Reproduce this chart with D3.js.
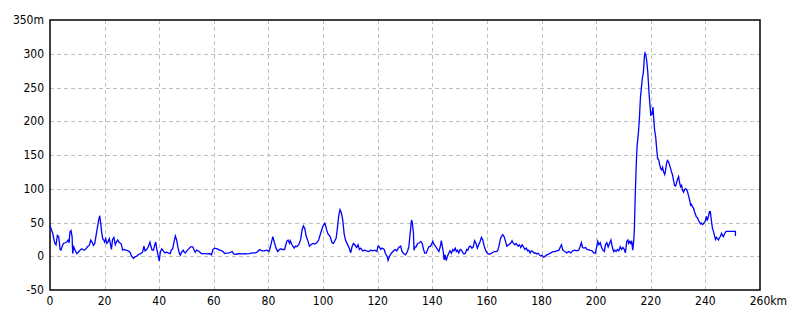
<!DOCTYPE html>
<html>
<head>
<meta charset="utf-8">
<script src="https://cdn.jsdelivr.net/npm/d3@7"></script>
<style>
body { margin: 0; background: #fff; }
svg text { font-family: "Liberation Sans Narrow", "DejaVu Sans Condensed", "Liberation Sans", sans-serif; font-size: 12px; fill: #000; }
</style>
</head>
<body>
<svg width="800" height="320"></svg>
<script>
// elevation profile: distance (km) / height (m)
var dist = [0,1.0,1.5,1.8,2.2,2.7,3.2,3.4,3.7,4.0,4.4,4.9,5.6,6.1,6.6,7.0,7.3,7.7,8.1,8.3,8.7,9.2,9.8,10.4,11.0,11.6,12.0,12.5,13.2,13.7,14.4,14.9,15.4,15.9,16.4,16.8,17.3,17.8,18.2,18.6,18.9,19.3,19.7,20.0,20.4,20.8,21.2,21.7,22.1,22.5,22.9,23.4,23.9,24.3,24.8,25.2,26.1,26.6,27.1,27.8,28.6,29.3,29.9,30.5,31.1,31.7,32.5,33.2,33.9,34.4,34.8,35.4,36.0,36.6,37.0,37.4,37.9,38.3,38.7,39.1,39.6,40.0,40.4,40.9,41.5,42.1,42.7,43.3,44.0,44.4,44.9,45.4,45.9,46.4,46.8,47.3,47.7,48.2,48.8,49.2,49.6,50.1,50.8,51.5,52.3,52.7,53.2,53.7,54.3,55.4,56.7,57.6,58.5,59.1,59.7,60.3,61.3,62.1,63.0,64.0,64.5,65.7,66.7,67.2,68.1,69.3,70.6,71.2,72.0,73.0,74.2,75.4,76.1,76.7,77.7,78.5,79.4,80.2,80.7,81.6,82.2,82.8,83.4,84.0,84.6,85.2,85.9,86.7,87.2,87.7,88.0,88.6,89.4,89.9,90.4,91.1,91.8,92.3,92.8,93.3,93.8,94.5,95.0,95.6,96.2,96.9,97.7,98.4,99.1,99.9,100.6,100.9,101.3,101.8,102.6,103.3,103.8,104.3,104.8,105.3,105.7,106.2,106.7,107.2,107.7,108.2,108.9,109.6,110.1,110.6,111.1,111.6,112.3,112.8,113.3,113.8,114.5,115.2,115.9,116.7,117.4,118.2,118.9,119.7,120.1,120.6,121.1,121.6,122.4,122.8,123.6,123.8,124.3,125.0,125.8,126.5,127.0,127.7,128.4,128.9,129.4,130.2,130.9,131.4,131.9,132.4,132.7,133.1,133.3,133.7,134.1,134.6,135.3,135.8,136.3,136.8,137.2,137.7,138.2,138.7,139.4,140.2,140.7,141.3,141.9,142.4,142.9,143.3,143.7,144.1,144.3,144.7,145.1,145.5,146.0,146.5,147.0,147.5,147.9,148.4,148.8,149.2,149.7,150.2,150.7,151.2,151.6,152.1,152.6,153.0,153.5,154.0,154.5,155.0,155.5,156.0,156.5,157.0,157.5,158.0,158.5,159.0,159.6,160.2,160.9,161.7,162.7,163.4,163.9,164.4,164.9,165.3,165.8,166.3,166.8,167.3,168.0,168.8,169.2,169.7,170.2,170.7,171.4,171.9,172.4,172.9,173.4,173.9,174.4,174.9,175.3,175.8,176.3,176.8,177.3,177.7,178.2,178.8,179.2,179.7,180.2,180.7,181.2,181.9,182.7,183.4,184.2,184.9,185.6,186.4,186.9,187.3,187.8,188.5,189.3,190.0,190.7,191.4,192.2,192.9,193.6,194.1,194.6,195.0,195.5,196.1,196.7,197.6,198.5,199.1,199.7,200.2,200.6,201.0,201.5,202.0,202.5,203.0,203.4,203.9,204.4,204.9,205.4,205.9,206.4,206.8,207.3,207.8,208.3,208.8,209.3,209.8,210.3,210.7,211.2,211.6,211.9,212.3,212.7,213.0,213.4,213.8,214.0,214.3,214.7,215.0,215.5,215.9,216.2,216.6,216.9,217.3,217.7,217.9,218.2,218.5,218.9,219.3,219.6,220.0,220.4,220.8,221.0,221.4,221.8,222.1,222.5,222.9,223.2,223.6,224.0,224.3,224.7,225.1,225.4,225.8,226.1,226.5,226.9,227.2,227.6,228.0,228.3,228.7,229.1,229.4,229.8,230.2,230.5,230.9,231.3,231.6,232.0,232.4,232.7,233.1,233.5,233.8,234.2,234.6,234.9,235.3,235.7,236.0,236.4,236.7,237.1,237.5,237.8,238.2,238.6,238.9,239.3,239.7,240.0,240.4,240.7,241.1,241.5,241.8,242.2,242.6,242.9,243.3,243.7,244.0,244.4,244.8,245.2,245.5,245.9,246.3,246.6,247.0,247.4,247.7,251.0,251.0];
var elev = [45,34,24,19,17,31,29,21,10,9,14,19,20,21,24,20,36,38,29,4,14,9,4,6,9,11,10,9,11,14,16,24,21,16,19,29,41,53,60,48,36,26,24,21,26,19,21,26,19,10,25,28,17,21,24,21,18,9,10,9,8,6,0,-3,-1,0,3,4,6,15,8,10,14,21,14,9,9,16,21,11,1,-7,6,11,8,5,6,5,4,9,11,21,30,24,14,5,1.5,6,9,6,5,8,11,14,14,10,6,9,8,4,4,3.5,4,2,10,12,11,9,8,4,4.5,5,7,3.5,3,4,3.5,4,3.5,4,5,5,7,10,8,8,9,7,14,29,20,12,7,10,11,10,10,22,24,19,23,17,12,15,14,17,25,39,45,41,30,22,15,17,19,18,20,24,34,44,49,46,39,33,29,20,19,23,27,44,59,69,64,54,34,24,18,12,5,14,19,17,13,17,10,12,8,9,8,7,9,8,9,7,15,14,10,12,10,4.5,-1.5,-6,-0.5,4.5,8,10,8,13,15,7,4.5,2,7,14,34,54,49,34,9,14,14,19,20,22,19,10,5,4.5,9,14,15,22,17,14,10,7,14,23,14,4.5,-5.5,2,-6.5,-0.5,4.5,8,4.5,10,8,12,7,9,5,10,9,5,3.5,4.5,10,9,14,15,12,14,23,19,12,17,22,28,24,15,8,4.5,3,4.5,7,7,8,15,25,29,32,29,22,15,17,20,23,19,17,19,15,17,13,17,14,10,12,8,9,5,8,7,4.5,5,3.5,4.5,2,0.5,1.5,-1.5,-0.5,2,3.5,5,7,7,8,9,14,17,9,7,5,7,5,8,9,8,9,14,20,13,12,13,10,9,8,5,4.5,14,22,17,20,13,9,7,17,20,14,19,24,14,7,9,7,10,8,14,10,13,10,5,22,24,19,22,19,23,9,25,41,88,137,164,184,209,234,251,263,273,298,301,298,290,273,246,229,209,210,221,209,187,177,162,145,143,137,130,128,132,125,121,127,138,142,140,135,131,125,120,113,105,104,108,114,118,110,103,105,98,95,99,100,99,95,90,84,76,77,73,71,66,62,58,57,53,51,48,49,47,48,51,52,59,53,59,66,66,53,41,38,31,25,28,26,24,28,29,34,31,29,33,36,37,37,30];

var xTicks = [0,20,40,60,80,100,120,140,160,180,200,220,240,260];
var yTicks = [-50,0,50,100,150,200,250,300,350];

var svg = d3.select("svg"),
    plotLeft = 50, plotRight = 760, plotTop = 20, plotBottom = 290;

var x = d3.scaleLinear().domain([0, 260]).range([plotLeft, plotRight]);
var y = d3.scaleLinear().domain([-50, 350]).range([plotBottom, plotTop]);

// grid
svg.append("g")
    .selectAll("line")
    .data(xTicks.slice(1, -1))
    .enter().append("line")
    .attr("x1", function(d) { return Math.round(x(d)) + 0.5; })
    .attr("x2", function(d) { return Math.round(x(d)) + 0.5; })
    .attr("y1", plotTop)
    .attr("y2", plotBottom)
    .attr("stroke", "#c0c0c0")
    .attr("stroke-dasharray", "4,3");

svg.append("g")
    .selectAll("line")
    .data(yTicks.slice(1, -1))
    .enter().append("line")
    .attr("x1", plotLeft)
    .attr("x2", plotRight)
    .attr("y1", function(d) { return Math.round(y(d)) + 0.5; })
    .attr("y2", function(d) { return Math.round(y(d)) + 0.5; })
    .attr("stroke", "#c0c0c0")
    .attr("stroke-dasharray", "4,3");

// frame
svg.append("rect")
    .attr("x", plotLeft)
    .attr("y", plotTop)
    .attr("width", plotRight - plotLeft)
    .attr("height", plotBottom - plotTop)
    .attr("fill", "none")
    .attr("stroke", "#000")
    .attr("stroke-width", 1.5);

// profile
var line = d3.line()
    .x(function(d, i) { return x(dist[i]); })
    .y(function(d) { return y(d); });

svg.append("path")
    .datum(elev)
    .attr("d", line)
    .attr("fill", "none")
    .attr("stroke", "#0000ff")
    .attr("stroke-width", 1.3);

// y labels
svg.append("g")
    .selectAll("text")
    .data(yTicks)
    .enter().append("text")
    .attr("x", plotLeft - 6)
    .attr("y", function(d) { return y(d); })
    .attr("dy", "0.35em")
    .attr("text-anchor", "end")
    .text(function(d, i) { return (i == yTicks.length - 1) ? d + "m" : d; });

// x labels
var xl = svg.append("g")
    .selectAll("text")
    .data(xTicks)
    .enter().append("text")
    .attr("x", function(d) { return x(d); })
    .attr("y", plotBottom + 15)
    .attr("text-anchor", "middle")
    .text(function(d) { return d; });

// last label gets the unit after the number
xl.filter(function(d, i) { return i == xTicks.length - 1; })
    .each(function(d) {
        var w = this.getComputedTextLength();
        d3.select(this)
            .attr("text-anchor", "start")
            .attr("x", x(d) - w / 2)
            .text(d + "km");
    });
</script>
</body>
</html>
